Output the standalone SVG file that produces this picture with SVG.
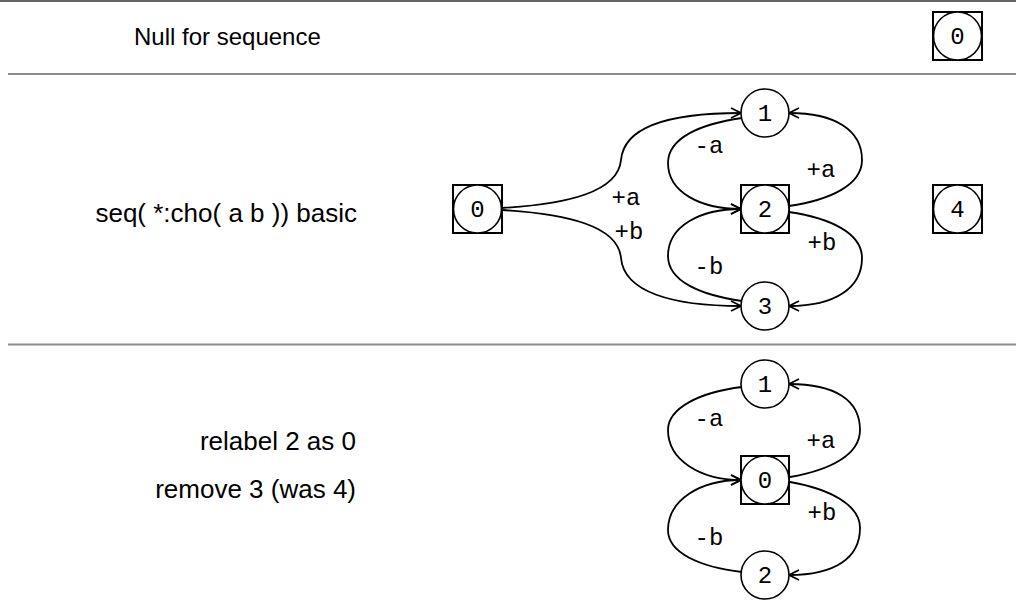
<svg xmlns="http://www.w3.org/2000/svg" width="1016" height="611" viewBox="0 0 1016 611">
<style>
.sep{stroke:#8c8c8c;stroke-width:2}
.cap{font-family:"Liberation Sans",Arial,sans-serif;font-size:26px;fill:#000}
.nl{font-family:"Liberation Mono","Courier New",monospace;font-size:24px;fill:#000;text-anchor:middle}
.el{font-family:"Liberation Mono","Courier New",monospace;font-size:24px;fill:#000;text-anchor:middle}
.c{fill:#fff;stroke:#000;stroke-width:1.6}
.b{fill:none;stroke:#000;stroke-width:2}
.e{fill:none;stroke:#000;stroke-width:1.8;marker-end:url(#arr)}
</style>
<defs>
<marker id="arr" viewBox="-12 -7 14 14" refX="0" refY="0" markerWidth="14" markerHeight="14" markerUnits="userSpaceOnUse" orient="auto">
<path d="M-10,-5 L0,0 L-10,5" fill="none" stroke="#000" stroke-width="1.8"/>
</marker>
</defs>
<rect width="1016" height="611" fill="#fff"/>
<g id="separators">
<line x1="0" y1="1" x2="1016" y2="1" stroke="#333" stroke-width="1.5"/>
<line class="sep" x1="8" y1="74" x2="1016" y2="74"/>
<line class="sep" x1="8" y1="344.5" x2="1016" y2="344.5"/>
</g>
<g id="captions">
<text class="cap" x="134" y="45" style="font-size:24px">Null for sequence</text>
<text class="cap" x="357" y="222" text-anchor="end">seq( *:cho( a b )) basic</text>
<text class="cap" x="356" y="450" text-anchor="end">relabel 2 as 0</text>
<text class="cap" x="356" y="498" text-anchor="end">remove 3 (was 4)</text>
</g>
<g id="connectors">
<path class="e" d="M502,208 C568,204 618,192 621,160 C624,126 672,113 741,113"/>
<path class="e" d="M502,210 C568,214 618,226 621,258 C624,292 672,306 741,306"/>
<path class="e" d="M742,118 C700,124 668,138 668,163 C668,192 700,209 741,209"/>
<path class="e" d="M742,301 C700,295 668,281 668,256 C668,226 700,209 741,209"/>
<path class="e" d="M789,206 C830,200 862,185 862,160 C862,130 835,113 789,113"/>
<path class="e" d="M789,212 C830,218 862,233 862,258 C862,288 835,306 789,306"/>
<path class="e" d="M742,387 C700,392 668,408 668,430 C668,460 700,480 741,480"/>
<path class="e" d="M742,572 C700,567 668,553 668,530 C668,500 700,480 741,480"/>
<path class="e" d="M790,477 C830,470 860,455 860,430 C860,400 835,384 789,384"/>
<path class="e" d="M790,482 C830,489 860,505 860,528 C860,558 835,575 789,575"/>
<text class="el" x="626" y="205">+a</text>
<text class="el" x="629" y="239">+b</text>
<text class="el" x="709" y="153">-a</text>
<text class="el" x="709" y="274">-b</text>
<text class="el" x="821" y="177">+a</text>
<text class="el" x="822" y="250">+b</text>
<text class="el" x="709" y="426">-a</text>
<text class="el" x="821" y="448">+a</text>
<text class="el" x="822" y="520">+b</text>
<text class="el" x="709" y="545">-b</text>
</g>
<g id="n_top0">
<rect class="b" x="933" y="12" width="49" height="48"/>
<circle class="c" cx="957.5" cy="36" r="24"/>
<text class="nl" x="957.5" y="44">0</text>
</g>
<g id="n_r2_0">
<rect class="b" x="453" y="185" width="49" height="48"/>
<circle class="c" cx="477.5" cy="209" r="24"/>
<text class="nl" x="477.5" y="217">0</text>
</g>
<g id="n_r2_1">
<circle class="c" cx="765" cy="113" r="24"/>
<text class="nl" x="765" y="121">1</text>
</g>
<g id="n_r2_2">
<rect class="b" x="741" y="185" width="48" height="48"/>
<circle class="c" cx="765" cy="209" r="24"/>
<text class="nl" x="765" y="217">2</text>
</g>
<g id="n_r2_3">
<circle class="c" cx="765" cy="306" r="24"/>
<text class="nl" x="765" y="314">3</text>
</g>
<g id="n_r2_4">
<rect class="b" x="933" y="185" width="49" height="48"/>
<circle class="c" cx="957.5" cy="209" r="24"/>
<text class="nl" x="957.5" y="217">4</text>
</g>
<g id="n_r3_1">
<circle class="c" cx="765" cy="384" r="24"/>
<text class="nl" x="765" y="392">1</text>
</g>
<g id="n_r3_0">
<rect class="b" x="741" y="456" width="48" height="48"/>
<circle class="c" cx="765" cy="480" r="24"/>
<text class="nl" x="765" y="488">0</text>
</g>
<g id="n_r3_2">
<circle class="c" cx="765" cy="575" r="24"/>
<text class="nl" x="765" y="583">2</text>
</g>
</svg>
